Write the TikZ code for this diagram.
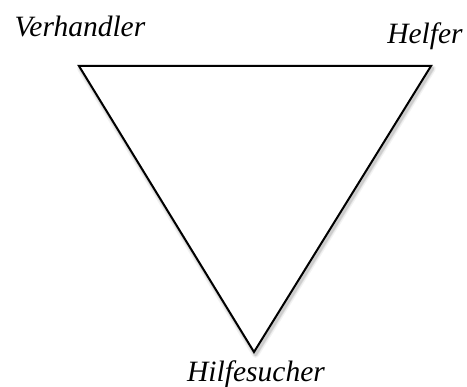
\documentclass[tikz,border=0pt]{standalone}
\usepackage{fontspec}
\setmainfont{Liberation Serif}
\begin{document}
\begin{tikzpicture}[x=1pt,y=-1pt,
  lbl/.style={font=\fontsize{29.5}{34}\selectfont\itshape, inner sep=0pt, anchor=base},
  tri/.style={draw=black, line width=2pt, line join=miter, fill=white},
  shade/.style={draw=black, line join=round}]
\useasboundingbox (0,0) rectangle (467,387);
\coordinate (L) at (79,66);
\coordinate (R) at (431,66);
\coordinate (B) at (254,352);
\foreach \o/\w in {0.05/7, 0.07/4.5, 0.09/3}{
  \draw[shade, draw opacity=\o, line width=\w pt] ([shift={(1.5,2.5)}]L) -- ([shift={(1.5,2.5)}]R) -- ([shift={(1.5,2.5)}]B) -- cycle;
}
\draw[tri] (L) -- (R) -- (B) -- cycle;
\node[lbl] (v) at (80,37) {Verhandler};
\node[lbl] (h) at (425,44) {Helfer};
\node[lbl] (s) at (256,382) {Hilfesucher};
\end{tikzpicture}
\end{document}
